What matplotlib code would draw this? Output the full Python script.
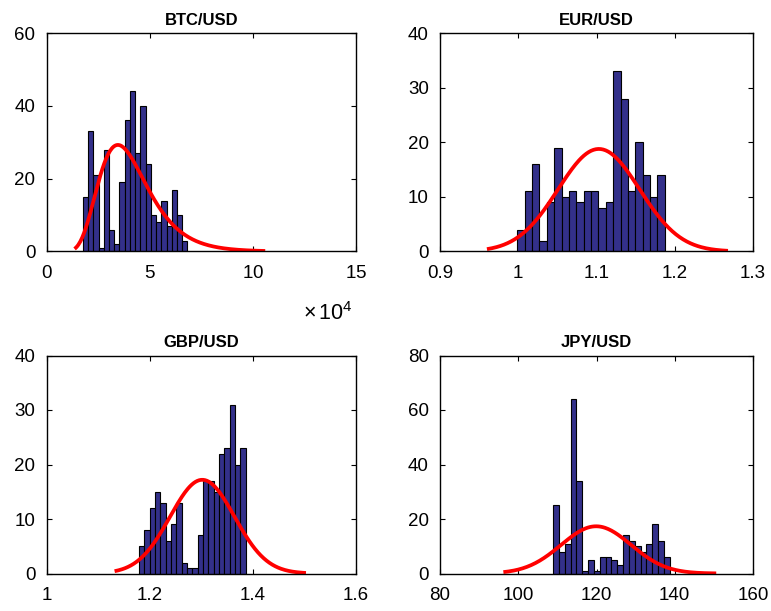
import numpy as np
import matplotlib
matplotlib.use("Agg")
import matplotlib.pyplot as plt
from matplotlib.ticker import FuncFormatter, ScalarFormatter

plt.rcParams['font.family'] = ['Liberation Sans', 'DejaVu Sans']
plt.rcParams['mathtext.fontset'] = 'custom'
plt.rcParams['mathtext.rm'] = 'Liberation Sans'
plt.rcParams['mathtext.it'] = 'Liberation Sans:italic'

# ---- histogram data (20 equal-width bins per pair) ----
titles = ["BTC/USD", "EUR/USD", "GBP/USD", "JPY/USD"]

btc_counts = [15, 33, 21, 1, 28, 6, 2, 19, 36, 44, 27, 40, 24, 10, 8, 14, 7, 17, 10, 3]
btc_edges = [17630.0, 68300.0]          # first / last bin edge (USD)

eur_counts = [4, 11, 16, 2, 9, 19, 10, 11, 9, 11, 11, 8, 9, 33, 28, 11, 20, 14, 10, 14]
eur_edges = [0.9987, 1.1873]

gbp_counts = [5, 8, 12, 15, 13, 6, 9, 13, 2, 1, 1, 7, 17, 17, 15, 22, 23, 31, 20, 23]
gbp_edges = [1.1792, 1.3864]

jpy_counts = [25, 8, 11, 64, 34, 1, 5, 1, 6, 6, 5, 3, 14, 12, 10, 8, 11, 18, 12, 6]
jpy_edges = [108.9, 138.73]

# ---- fitted distributions ----
# BTC: lognormal (mu, sigma of log-price); others: normal (mean, std)
btc_fit = [10.5696, 0.3435]
eur_fit = [1.103, 0.0521]
gbp_fit = [1.302, 0.0625]
jpy_fit = [119.9, 8.93]

btc_curve_range = [13600.0, 106000.0]
eur_curve_range = [0.960, 1.268]
gbp_curve_range = [1.132, 1.503]
jpy_curve_range = [96.2, 150.6]

# ---- axis settings ----
btc_xticks = [0, 50000, 100000, 150000]
eur_xticks = [0.9, 1.0, 1.1, 1.2, 1.3]
gbp_xticks = [1.0, 1.2, 1.4, 1.6]
jpy_xticks = [80, 100, 120, 140, 160]

btc_yticks = [0, 20, 40, 60]
eur_yticks = [0, 10, 20, 30, 40]
gbp_yticks = [0, 10, 20, 30, 40]
jpy_yticks = [0, 20, 40, 60, 80]


def normal_pdf(x, m, s):
    return np.exp(-0.5 * ((x - m) / s) ** 2) / (s * np.sqrt(2 * np.pi))


def lognormal_pdf(x, mu, s):
    return np.exp(-0.5 * ((np.log(x) - mu) / s) ** 2) / (x * s * np.sqrt(2 * np.pi))


W, H = 771, 611
fig = plt.figure(figsize=(W / 100, H / 100), dpi=100)

# axes rectangles in pixels: left, top, right, bottom
rects_px = [
    (46.5, 33.0, 356.0, 251.5),
    (440.0, 33.0, 753.0, 251.5),
    (46.5, 355.5, 356.0, 573.5),
    (440.0, 355.5, 753.0, 573.5),
]

panels = [
    (btc_counts, btc_edges, btc_fit, btc_curve_range, "lognormal", btc_xticks, btc_yticks),
    (eur_counts, eur_edges, eur_fit, eur_curve_range, "normal", eur_xticks, eur_yticks),
    (gbp_counts, gbp_edges, gbp_fit, gbp_curve_range, "normal", gbp_xticks, gbp_yticks),
    (jpy_counts, jpy_edges, jpy_fit, jpy_curve_range, "normal", jpy_xticks, jpy_yticks),
]

bar_color = "#33308A"
tick_fs = 13.5

for i, (counts, edges, fit, crange, kind, xt, yt) in enumerate(panels):
    l, t, r, b = rects_px[i]
    ax = fig.add_axes([l / W, 1 - b / H, (r - l) / W, (b - t) / H])

    counts = np.asarray(counts, dtype=float)
    e = np.linspace(edges[0], edges[1], len(counts) + 1)
    bw = e[1] - e[0]
    ax.bar(e[:-1], counts, width=bw, align="edge", color=bar_color,
           edgecolor="black", linewidth=0.8, zorder=2)

    x = np.linspace(crange[0], crange[1], 200)
    if kind == "lognormal":
        y = lognormal_pdf(x, fit[0], fit[1])
    else:
        y = normal_pdf(x, fit[0], fit[1])
    y = y * counts.sum() * bw
    ax.plot(x, y, color="red", linewidth=2.7, zorder=3, solid_capstyle="butt")

    ax.set_xlim(xt[0], xt[-1])
    ax.set_ylim(yt[0], yt[-1])
    ax.set_xticks(xt)
    ax.set_yticks(yt)
    ax.set_title(titles[i], fontsize=12, fontweight="bold", pad=6)

    ax.tick_params(direction="in", length=3.5, width=0.8, top=True, right=True,
                   labelsize=tick_fs, colors="black")
    ax.tick_params(axis="x", pad=10)
    ax.tick_params(axis="y", pad=8)
    for sp in ax.spines.values():
        sp.set_linewidth(1.0)
        sp.set_zorder(4)

    if i == 0:
        fmt = ScalarFormatter(useMathText=True)
        fmt.set_powerlimits((4, 4))
        ax.xaxis.set_major_formatter(fmt)
        ax.xaxis.get_offset_text().set_visible(False)
        ax.text(0.99, -0.313, r"$\times\,\mathdefault{10}^{\mathdefault{4}}$",
                transform=ax.transAxes, ha="right", va="baseline", fontsize=15.5)
    else:
        ax.xaxis.set_major_formatter(FuncFormatter(lambda v, p: f"{v:g}"))
    ax.yaxis.set_major_formatter(FuncFormatter(lambda v, p: f"{v:g}"))

fig.savefig("out.png", dpi=100)
